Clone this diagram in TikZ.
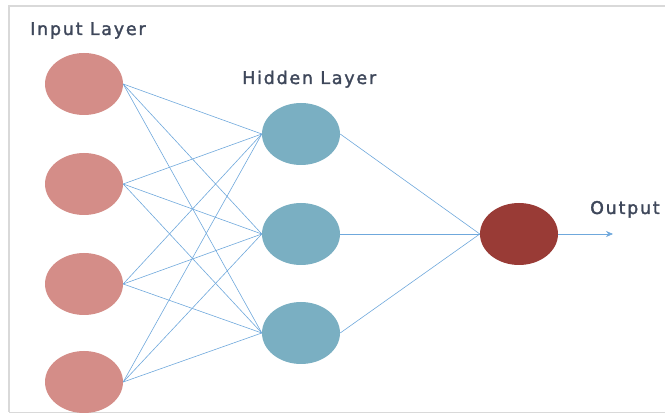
\documentclass[tikz,border=0pt]{standalone}
\usepackage{fontspec}
\newfontfamily\labfont[LetterSpace=10,FakeBold=1.8]{DejaVu Sans}
\usetikzlibrary{arrows.meta,shapes.geometric}
\definecolor{inpc}{HTML}{D48D88}
\definecolor{hidc}{HTML}{7AAFC2}
\definecolor{outc}{HTML}{993B36}
\definecolor{linec}{HTML}{6FA8DC}
\definecolor{txtc}{HTML}{3E475A}
\definecolor{framec}{HTML}{D9D9D9}
\tikzset{
  neuron/.style={ellipse,inner sep=0pt,minimum width=78pt,minimum height=62pt,draw=none},
  inneuron/.style={neuron,fill=inpc},
  hidneuron/.style={neuron,fill=hidc},
  outneuron/.style={neuron,fill=outc},
  conn/.style={draw=linec,line width=0.6pt},
  lab/.style={text=txtc,font=\labfont\fontsize{17.5}{20}\selectfont,inner sep=0pt,anchor=base west},
  frame/.style={draw=framec,line width=2pt}
}
\begin{document}
\begin{tikzpicture}[x=1pt,y=-1pt]
\useasboundingbox (0,0) rectangle (665,414);
\draw[frame] (9,412) -- (9,6) -- (665,6);
\draw[draw=framec,line width=1pt] (9,412.5) -- (665,412.5);
\node[lab] (tin) at (30,35) {Input Layer};
\node[lab] (thid) at (242,84) {Hidden Layer};
\node[lab] (tout) at (590,214) {Output};
\node[inneuron] (i1) at (84,84) {};
\node[inneuron] (i2) at (84,184) {};
\node[inneuron] (i3) at (84,284) {};
\node[inneuron] (i4) at (84,382) {};
\node[hidneuron] (h1) at (301,134) {};
\node[hidneuron] (h2) at (301,234) {};
\node[hidneuron] (h3) at (301,333) {};
\node[outneuron] (o) at (519,234) {};
\coordinate (oend) at (613,234);
\foreach \i in {1,2,3,4}{
  \foreach \h in {1,2,3}{
    \draw[conn] (i\i.east) -- (h\h.west);
  }
}
\foreach \h in {1,2,3}{
  \draw[conn] (h\h.east) -- (o.west);
}
\draw[conn,-{Stealth[length=7pt,width=6pt]}] (o.east) -- (oend);
\end{tikzpicture}
\end{document}
